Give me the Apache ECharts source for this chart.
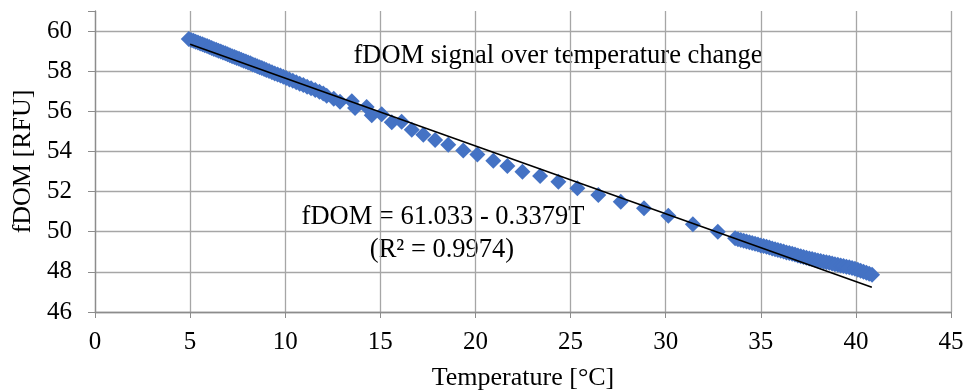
<!DOCTYPE html>
<html>
<head>
<meta charset="utf-8">
<title>fDOM signal over temperature change</title>
<script src="https://cdn.jsdelivr.net/npm/echarts@6/dist/echarts.min.js"></script>
<style>
  html, body { margin: 0; padding: 0; background: #fff; }
  #chart { width: 967px; height: 392px; }
</style>
</head>
<body>
<div id="chart"></div>
<script>
// measured temperature [°C]
const temperature = [
  4.93, 5.05, 5.17, 5.29, 5.41, 5.53, 5.65, 5.77, 5.89, 6.01, 6.13, 6.25, 6.37, 6.49, 6.61, 6.73,
  6.85, 6.97, 7.09, 7.21, 7.33, 7.45, 7.57, 7.69, 7.81, 7.93, 8.05, 8.17, 8.29, 8.41, 8.53, 8.65,
  8.77, 8.89, 9.01, 9.15, 9.30, 9.45, 9.60, 9.75, 9.90, 10.05, 10.22, 10.40, 10.58, 10.76, 10.95,
  11.15, 11.36, 11.58, 11.80, 12.00,
  12.18, 12.55, 12.88, 13.50, 13.67, 14.28, 14.55, 15.07, 15.60, 16.12, 16.65, 17.26, 17.88,
  18.57, 19.36, 20.10,
  20.94, 21.68, 22.47, 23.40, 24.36, 25.36, 26.46, 27.64, 28.86, 30.14, 31.43, 32.74,
  33.65, 33.80, 33.95, 34.10, 34.25, 34.40, 34.55, 34.70, 34.85, 35.00, 35.15, 35.30, 35.45,
  35.60, 35.75, 35.90, 36.05, 36.20, 36.35, 36.50, 36.65, 36.80, 36.95, 37.10, 37.25, 37.40,
  37.55, 37.70, 37.85, 38.00, 38.15, 38.30, 38.45, 38.60, 38.75, 38.90, 39.05, 39.20, 39.35,
  39.50, 39.65, 39.80, 39.95, 40.10, 40.25, 40.40, 40.55, 40.70, 40.85
];
// fDOM signal [RFU]
const fdom = [
  59.61, 59.56, 59.52, 59.47, 59.43, 59.38, 59.34, 59.29, 59.25, 59.20, 59.16, 59.11, 59.07, 59.02, 58.98, 58.93,
  58.89, 58.84, 58.80, 58.75, 58.71, 58.66, 58.62, 58.57, 58.52, 58.48, 58.43, 58.39, 58.34, 58.30, 58.25, 58.20,
  58.16, 58.11, 58.06, 58.01, 57.95, 57.89, 57.84, 57.78, 57.72, 57.66, 57.59, 57.52, 57.45, 57.38, 57.31,
  57.23, 57.15, 57.06, 56.97, 56.89,
  56.78, 56.63, 56.48, 56.50, 56.17, 56.22, 55.80, 55.85, 55.45, 55.48, 55.08, 54.83, 54.57,
  54.33, 54.05, 53.85,
  53.54, 53.28, 52.99, 52.78, 52.49, 52.17, 51.83, 51.50, 51.17, 50.80, 50.37, 50.00,
  49.67, 49.63, 49.59, 49.55, 49.51, 49.48, 49.44, 49.40, 49.36, 49.32, 49.29, 49.25, 49.21,
  49.17, 49.13, 49.09, 49.05, 49.01, 48.97, 48.94, 48.90, 48.86, 48.82, 48.78, 48.74, 48.70,
  48.67, 48.64, 48.61, 48.57, 48.54, 48.51, 48.48, 48.45, 48.42, 48.38, 48.35, 48.32, 48.29,
  48.26, 48.23, 48.19, 48.16, 48.11, 48.06, 48.01, 47.96, 47.91, 47.86
];
// linear trendline fDOM = a + b*T, drawn over the measured range
const trendIntercept = 61.033;
const trendSlope = -0.3379;
const trendRange = [5.0, 40.84];

const yTicks = [46, 48, 50, 52, 54, 56, 58, 60];

const FONT = '"Liberation Serif", "Times New Roman", serif';
const AXIS_GRAY = '#8c8c8c';
const GRID_GRAY = '#a6a6a6';

const points = temperature.map((t, i) => [t, fdom[i]]);
const trend = trendRange.map(t => [t, trendIntercept + trendSlope * t]);

const chart = echarts.init(document.getElementById('chart'), null, { renderer: 'canvas' });

chart.setOption({
  animation: false,
  backgroundColor: '#fff',
  // fixed plot box, don't let the axis names push it around
  grid: { left: 95, right: 16, top: 11, bottom: 80, containLabel: false, outerBoundsMode: 'none' },
  xAxis: {
    type: 'value',
    min: 0, max: 45, interval: 5,
    name: 'Temperature [°C]',
    nameLocation: 'middle',
    nameGap: 53,
    nameTextStyle: { color: '#000', fontFamily: FONT, fontSize: 26 },
    axisLine: { show: true, onZero: false, lineStyle: { color: AXIS_GRAY, width: 1.3 } },
    axisTick: { show: true, length: 6, lineStyle: { color: AXIS_GRAY } },
    axisLabel: { color: '#000', fontFamily: FONT, fontSize: 25, margin: 18 },
    splitLine: { show: true, lineStyle: { color: GRID_GRAY, width: 1.3 } }
  },
  yAxis: {
    type: 'value',
    min: 46, max: 61, interval: 2,
    name: 'fDOM [RFU]',
    nameLocation: 'middle',
    nameGap: 57,
    nameTextStyle: { color: '#000', fontFamily: FONT, fontSize: 26 },
    axisLine: { show: true, lineStyle: { color: AXIS_GRAY, width: 1.3 } },
    axisTick: { show: true, length: 7, lineStyle: { color: AXIS_GRAY } },
    axisLabel: {
      color: '#000', fontFamily: FONT, fontSize: 25, margin: 23,
      // top of the plot (61) is not a labelled tick
      formatter: v => (yTicks.indexOf(v) >= 0 ? String(v) : '')
    },
    splitLine: {
      show: true,
      lineStyle: {
        width: 1.3,
        color: yTicks.map(() => GRID_GRAY).concat(['rgba(0,0,0,0)'])
      }
    }
  },
  graphic: [
    {
      type: 'text', x: 558, y: 56,
      style: {
        text: 'fDOM signal over temperature change',
        font: '26.5px ' + FONT, fill: '#000', align: 'center', verticalAlign: 'middle'
      }
    },
    {
      type: 'text', x: 443, y: 217,
      style: {
        text: 'fDOM = 61.033 - 0.3379T',
        font: '26.5px ' + FONT, fill: '#000', align: 'center', verticalAlign: 'middle'
      }
    },
    {
      type: 'text', x: 442, y: 250,
      style: {
        text: '(R² = 0.9974)',
        font: '26.5px ' + FONT, fill: '#000', align: 'center', verticalAlign: 'middle'
      }
    }
  ],
  series: [
    {
      name: 'fDOM',
      type: 'scatter',
      symbol: 'diamond',
      symbolSize: 16,
      itemStyle: { color: '#4472c4', opacity: 1 },
      data: points,
      z: 2
    },
    {
      name: 'trend',
      type: 'line',
      showSymbol: false,
      symbol: 'none',
      lineStyle: { color: '#000', width: 1.6 },
      data: trend,
      z: 3
    }
  ]
});

window.addEventListener('resize', () => chart.resize());
</script>
</body>
</html>
